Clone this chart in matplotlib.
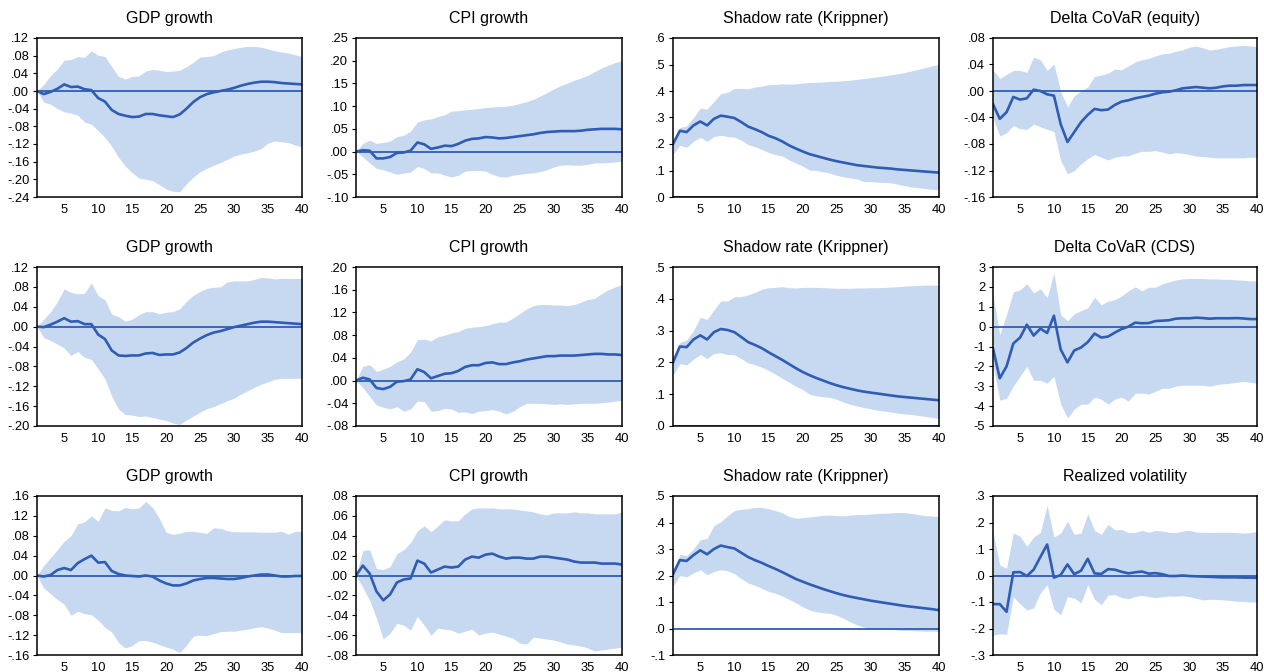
import matplotlib
matplotlib.use("Agg")
import matplotlib.pyplot as plt
import numpy as np

plt.rcParams['font.family'] = ['Liberation Sans', 'DejaVu Sans']

horizon = np.arange(1, 41)

titles = ["GDP growth", "CPI growth", "Shadow rate (Krippner)", "Delta CoVaR (equity)",
          "GDP growth", "CPI growth", "Shadow rate (Krippner)", "Delta CoVaR (CDS)",
          "GDP growth", "CPI growth", "Shadow rate (Krippner)", "Realized volatility"]

# row 1
gdp1_mid = [0, -0.007, -0.002, 0.005, 0.015, 0.009, 0.010, 0.004, 0.002, -0.016,
            -0.024, -0.043, -0.052, -0.056, -0.059, -0.058, -0.052, -0.052, -0.055, -0.057,
            -0.059, -0.053, -0.040, -0.025, -0.014, -0.007, -0.003, 0.000, 0.003, 0.007,
            0.012, 0.016, 0.019, 0.021, 0.021, 0.020, 0.018, 0.017, 0.016, 0.015]
gdp1_hi = [0, 0.015, 0.035, 0.050, 0.070, 0.071, 0.078, 0.076, 0.091, 0.081,
           0.078, 0.055, 0.033, 0.027, 0.033, 0.034, 0.045, 0.049, 0.047, 0.044,
           0.045, 0.047, 0.055, 0.065, 0.077, 0.078, 0.080, 0.088, 0.093, 0.096,
           0.099, 0.101, 0.101, 0.099, 0.095, 0.091, 0.088, 0.086, 0.082, 0.078]
gdp1_lo = [0, -0.025, -0.030, -0.040, -0.047, -0.050, -0.055, -0.070, -0.075, -0.090,
           -0.105, -0.125, -0.150, -0.170, -0.185, -0.197, -0.200, -0.203, -0.212, -0.222,
           -0.227, -0.228, -0.210, -0.195, -0.183, -0.175, -0.168, -0.162, -0.155, -0.147,
           -0.143, -0.140, -0.136, -0.130, -0.118, -0.113, -0.115, -0.117, -0.122, -0.127]

cpi1_mid = [0, 0.003, 0.002, -0.015, -0.015, -0.012, -0.003, -0.002, 0.002, 0.020,
            0.016, 0.006, 0.009, 0.013, 0.012, 0.017, 0.024, 0.028, 0.029, 0.032,
            0.031, 0.029, 0.030, 0.032, 0.034, 0.036, 0.038, 0.041, 0.043, 0.044,
            0.045, 0.045, 0.045, 0.046, 0.048, 0.049, 0.050, 0.050, 0.050, 0.049]
cpi1_hi = [0, 0.018, 0.025, 0.018, 0.020, 0.023, 0.033, 0.036, 0.045, 0.065,
           0.070, 0.072, 0.077, 0.081, 0.089, 0.090, 0.092, 0.093, 0.095, 0.097,
           0.098, 0.099, 0.100, 0.102, 0.106, 0.110, 0.115, 0.122, 0.130, 0.138,
           0.145, 0.151, 0.157, 0.162, 0.168, 0.176, 0.184, 0.190, 0.196, 0.200]
cpi1_lo = [0, -0.012, -0.025, -0.037, -0.040, -0.045, -0.050, -0.047, -0.045, -0.033,
           -0.037, -0.047, -0.047, -0.052, -0.056, -0.052, -0.043, -0.042, -0.042, -0.043,
           -0.050, -0.055, -0.056, -0.052, -0.050, -0.048, -0.047, -0.044, -0.040, -0.034,
           -0.030, -0.029, -0.030, -0.030, -0.028, -0.025, -0.025, -0.024, -0.023, -0.021]

shd1_mid = [0.200, 0.250, 0.245, 0.270, 0.285, 0.270, 0.295, 0.307, 0.303, 0.298,
            0.283, 0.266, 0.256, 0.245, 0.231, 0.222, 0.210, 0.195, 0.183, 0.172,
            0.162, 0.155, 0.148, 0.141, 0.135, 0.130, 0.125, 0.120, 0.117, 0.114,
            0.111, 0.109, 0.107, 0.104, 0.102, 0.100, 0.098, 0.096, 0.094, 0.092]
shd1_hi = [0.200, 0.262, 0.268, 0.300, 0.335, 0.332, 0.360, 0.390, 0.395, 0.410,
           0.410, 0.408, 0.415, 0.418, 0.424, 0.425, 0.427, 0.426, 0.427, 0.430,
           0.432, 0.433, 0.434, 0.436, 0.437, 0.439, 0.441, 0.444, 0.447, 0.450,
           0.454, 0.457, 0.461, 0.465, 0.470, 0.476, 0.482, 0.488, 0.495, 0.500]
shd1_lo = [0.160, 0.195, 0.188, 0.210, 0.225, 0.210, 0.228, 0.233, 0.228, 0.226,
           0.215, 0.198, 0.190, 0.180, 0.168, 0.160, 0.155, 0.140, 0.128, 0.117,
           0.102, 0.100, 0.095, 0.090, 0.082, 0.076, 0.072, 0.068, 0.058, 0.058,
           0.056, 0.055, 0.053, 0.048, 0.042, 0.038, 0.035, 0.032, 0.029, 0.027]

eq_mid = [-0.020, -0.042, -0.032, -0.009, -0.013, -0.011, 0.002, 0.000, -0.005, -0.007,
          -0.050, -0.077, -0.062, -0.047, -0.036, -0.027, -0.029, -0.028, -0.021, -0.016,
          -0.014, -0.011, -0.009, -0.007, -0.004, -0.002, -0.001, 0.001, 0.004, 0.005,
          0.006, 0.005, 0.004, 0.005, 0.007, 0.008, 0.008, 0.009, 0.009, 0.009]
eq_hi = [0.032, 0.019, 0.025, 0.031, 0.031, 0.028, 0.051, 0.047, 0.031, 0.041,
         -0.001, -0.024, -0.007, 0.000, 0.006, 0.022, 0.024, 0.027, 0.033, 0.032,
         0.038, 0.044, 0.047, 0.049, 0.053, 0.056, 0.057, 0.060, 0.062, 0.066,
         0.068, 0.065, 0.062, 0.063, 0.065, 0.067, 0.068, 0.069, 0.068, 0.067]
eq_lo = [-0.040, -0.068, -0.063, -0.052, -0.057, -0.058, -0.050, -0.054, -0.058, -0.061,
         -0.105, -0.125, -0.120, -0.110, -0.102, -0.096, -0.100, -0.104, -0.100, -0.098,
         -0.098, -0.094, -0.091, -0.091, -0.090, -0.092, -0.095, -0.093, -0.094, -0.096,
         -0.098, -0.099, -0.100, -0.101, -0.101, -0.101, -0.101, -0.101, -0.100, -0.100]

# row 2
gdp2_mid = [0, -0.001, 0.004, 0.010, 0.017, 0.010, 0.011, 0.005, 0.005, -0.016,
            -0.025, -0.048, -0.058, -0.059, -0.058, -0.058, -0.054, -0.053, -0.057, -0.056,
            -0.056, -0.052, -0.043, -0.032, -0.024, -0.017, -0.012, -0.009, -0.005, -0.001,
            0.002, 0.005, 0.008, 0.010, 0.010, 0.009, 0.008, 0.007, 0.006, 0.005]
gdp2_hi = [0, 0.015, 0.030, 0.050, 0.076, 0.069, 0.066, 0.067, 0.088, 0.062,
           0.054, 0.025, 0.020, 0.011, 0.015, 0.024, 0.030, 0.030, 0.026, 0.029,
           0.030, 0.036, 0.051, 0.063, 0.071, 0.077, 0.079, 0.080, 0.090, 0.092,
           0.092, 0.092, 0.095, 0.099, 0.098, 0.096, 0.097, 0.097, 0.097, 0.097]
gdp2_lo = [0, -0.022, -0.028, -0.035, -0.043, -0.058, -0.050, -0.062, -0.066, -0.085,
           -0.105, -0.140, -0.166, -0.177, -0.178, -0.181, -0.180, -0.183, -0.186, -0.189,
           -0.194, -0.197, -0.188, -0.180, -0.172, -0.165, -0.161, -0.155, -0.149, -0.144,
           -0.136, -0.129, -0.122, -0.116, -0.111, -0.106, -0.104, -0.104, -0.104, -0.104]

cpi2_mid = [0, 0.005, 0.002, -0.013, -0.015, -0.011, -0.002, -0.001, 0.002, 0.020,
            0.015, 0.004, 0.008, 0.012, 0.013, 0.017, 0.024, 0.027, 0.027, 0.031,
            0.032, 0.029, 0.029, 0.032, 0.034, 0.037, 0.039, 0.041, 0.043, 0.043,
            0.044, 0.044, 0.044, 0.045, 0.046, 0.047, 0.047, 0.046, 0.046, 0.045]
cpi2_hi = [0, 0.025, 0.028, 0.016, 0.020, 0.025, 0.033, 0.038, 0.050, 0.072,
           0.073, 0.070, 0.077, 0.080, 0.084, 0.086, 0.092, 0.094, 0.095, 0.097,
           0.100, 0.103, 0.103, 0.110, 0.118, 0.126, 0.132, 0.134, 0.134, 0.133,
           0.133, 0.132, 0.134, 0.138, 0.143, 0.145, 0.153, 0.160, 0.165, 0.169]
cpi2_lo = [0, -0.012, -0.028, -0.043, -0.047, -0.050, -0.046, -0.054, -0.050, -0.036,
           -0.037, -0.054, -0.053, -0.049, -0.050, -0.056, -0.055, -0.058, -0.054, -0.053,
           -0.051, -0.054, -0.059, -0.054, -0.046, -0.040, -0.040, -0.040, -0.041, -0.042,
           -0.041, -0.042, -0.041, -0.040, -0.040, -0.040, -0.039, -0.038, -0.036, -0.035]

shd2_mid = [0.200, 0.250, 0.248, 0.272, 0.285, 0.272, 0.295, 0.305, 0.302, 0.295,
            0.280, 0.264, 0.255, 0.245, 0.232, 0.220, 0.208, 0.195, 0.182, 0.170,
            0.160, 0.151, 0.143, 0.135, 0.128, 0.122, 0.117, 0.112, 0.108, 0.105,
            0.102, 0.099, 0.096, 0.093, 0.091, 0.089, 0.087, 0.085, 0.083, 0.081]
shd2_hi = [0.200, 0.263, 0.270, 0.300, 0.342, 0.335, 0.365, 0.393, 0.393, 0.406,
           0.407, 0.412, 0.420, 0.430, 0.435, 0.436, 0.438, 0.435, 0.434, 0.436,
           0.436, 0.436, 0.435, 0.434, 0.433, 0.433, 0.433, 0.434, 0.434, 0.435,
           0.435, 0.436, 0.437, 0.438, 0.440, 0.441, 0.442, 0.443, 0.443, 0.443]
shd2_lo = [0.160, 0.196, 0.192, 0.210, 0.225, 0.212, 0.228, 0.230, 0.225, 0.224,
           0.212, 0.198, 0.193, 0.185, 0.175, 0.163, 0.150, 0.138, 0.125, 0.115,
           0.100, 0.095, 0.092, 0.090, 0.084, 0.075, 0.068, 0.063, 0.058, 0.054,
           0.049, 0.047, 0.044, 0.040, 0.038, 0.036, 0.033, 0.030, 0.027, 0.024]

cds_mid = [-1.10, -2.60, -2.00, -0.85, -0.55, 0.10, -0.45, -0.10, -0.32, 0.55,
           -1.15, -1.80, -1.20, -1.05, -0.78, -0.35, -0.55, -0.50, -0.30, -0.12,
           0.00, 0.20, 0.17, 0.18, 0.28, 0.30, 0.32, 0.40, 0.42, 0.42,
           0.45, 0.43, 0.40, 0.42, 0.42, 0.42, 0.43, 0.41, 0.38, 0.38]
cds_hi = [1.60, -0.40, 0.60, 1.75, 1.85, 2.15, 1.70, 1.90, 1.45, 2.70,
          0.60, 0.30, 0.65, 0.80, 0.95, 1.48, 1.10, 1.28, 1.35, 1.55,
          1.80, 2.00, 1.80, 1.98, 1.98, 2.15, 2.25, 2.35, 2.40, 2.42,
          2.42, 2.42, 2.40, 2.40, 2.38, 2.38, 2.35, 2.33, 2.30, 2.30]
cds_lo = [-1.90, -3.70, -3.60, -3.00, -2.50, -2.00, -2.70, -2.70, -2.85, -2.50,
          -3.90, -4.60, -4.15, -3.90, -3.90, -3.55, -3.65, -3.90, -3.65, -3.55,
          -3.75, -3.35, -3.35, -3.40, -3.25, -3.10, -3.10, -3.00, -2.95, -2.95,
          -2.95, -2.95, -3.00, -2.92, -2.88, -2.85, -2.80, -2.75, -2.80, -2.85]

# row 3
gdp3_mid = [0, -0.002, 0.001, 0.011, 0.015, 0.011, 0.025, 0.033, 0.040, 0.026,
            0.027, 0.009, 0.003, 0.000, -0.001, -0.002, 0.000, -0.002, -0.010, -0.016,
            -0.020, -0.020, -0.016, -0.010, -0.007, -0.005, -0.005, -0.006, -0.007, -0.007,
            -0.005, -0.002, 0.000, 0.002, 0.002, 0.000, -0.002, -0.002, -0.001, -0.001]
gdp3_hi = [0, 0.020, 0.036, 0.052, 0.069, 0.080, 0.104, 0.108, 0.120, 0.109,
           0.136, 0.131, 0.130, 0.137, 0.134, 0.136, 0.149, 0.137, 0.115, 0.087,
           0.083, 0.085, 0.089, 0.089, 0.087, 0.085, 0.096, 0.095, 0.090, 0.088,
           0.088, 0.088, 0.088, 0.087, 0.087, 0.087, 0.089, 0.083, 0.089, 0.089]
gdp3_lo = [0, -0.025, -0.037, -0.048, -0.058, -0.080, -0.072, -0.077, -0.079, -0.090,
           -0.104, -0.114, -0.135, -0.146, -0.141, -0.131, -0.131, -0.134, -0.139, -0.144,
           -0.148, -0.155, -0.140, -0.122, -0.120, -0.121, -0.117, -0.113, -0.112, -0.112,
           -0.110, -0.108, -0.105, -0.103, -0.106, -0.110, -0.115, -0.115, -0.115, -0.115]

cpi3_mid = [0, 0.010, 0.002, -0.016, -0.025, -0.019, -0.007, -0.004, -0.003, 0.015,
            0.012, 0.003, 0.006, 0.009, 0.008, 0.009, 0.016, 0.019, 0.018, 0.021,
            0.022, 0.019, 0.017, 0.018, 0.018, 0.017, 0.017, 0.019, 0.019, 0.018,
            0.017, 0.016, 0.014, 0.013, 0.013, 0.013, 0.012, 0.012, 0.012, 0.011]
cpi3_hi = [0, 0.025, 0.026, 0.007, 0.006, 0.009, 0.022, 0.026, 0.033, 0.045,
           0.050, 0.044, 0.050, 0.056, 0.055, 0.055, 0.062, 0.067, 0.068, 0.068,
           0.068, 0.067, 0.067, 0.067, 0.066, 0.065, 0.064, 0.062, 0.061, 0.063,
           0.063, 0.063, 0.064, 0.063, 0.063, 0.062, 0.062, 0.062, 0.062, 0.064]
cpi3_lo = [0, -0.012, -0.025, -0.043, -0.064, -0.058, -0.048, -0.050, -0.055, -0.041,
           -0.050, -0.060, -0.053, -0.054, -0.055, -0.058, -0.056, -0.054, -0.060, -0.058,
           -0.057, -0.059, -0.061, -0.063, -0.068, -0.069, -0.062, -0.063, -0.064, -0.065,
           -0.067, -0.069, -0.070, -0.071, -0.073, -0.076, -0.075, -0.074, -0.073, -0.072]

shd3_mid = [0.205, 0.258, 0.255, 0.277, 0.295, 0.280, 0.300, 0.313, 0.307, 0.302,
            0.286, 0.270, 0.258, 0.248, 0.236, 0.225, 0.213, 0.200, 0.187, 0.177,
            0.167, 0.158, 0.149, 0.141, 0.133, 0.126, 0.120, 0.115, 0.110, 0.105,
            0.101, 0.097, 0.093, 0.089, 0.085, 0.082, 0.079, 0.076, 0.073, 0.069]
shd3_hi = [0.200, 0.280, 0.275, 0.300, 0.335, 0.340, 0.388, 0.403, 0.425, 0.445,
           0.450, 0.452, 0.457, 0.457, 0.452, 0.445, 0.437, 0.423, 0.416, 0.418,
           0.421, 0.424, 0.427, 0.428, 0.426, 0.425, 0.428, 0.430, 0.430, 0.432,
           0.434, 0.435, 0.436, 0.438, 0.437, 0.434, 0.430, 0.426, 0.424, 0.423]
shd3_lo = [0.160, 0.200, 0.195, 0.210, 0.222, 0.203, 0.215, 0.222, 0.218, 0.207,
           0.188, 0.172, 0.163, 0.152, 0.140, 0.133, 0.123, 0.110, 0.097, 0.082,
           0.070, 0.063, 0.060, 0.057, 0.050, 0.038, 0.025, 0.013, 0.005, 0.002,
           0.000, -0.002, -0.003, -0.006, -0.007, -0.008, -0.009, -0.010, -0.010, -0.011]

rv_mid = [-0.108, -0.108, -0.137, 0.012, 0.013, -0.002, 0.022, 0.070, 0.117, -0.008,
          0.002, 0.042, 0.005, 0.018, 0.063, 0.008, 0.006, 0.024, 0.022, 0.014,
          0.008, 0.012, 0.015, 0.007, 0.009, 0.005, -0.002, -0.002, 0.000, -0.002,
          -0.003, -0.004, -0.005, -0.006, -0.007, -0.007, -0.007, -0.008, -0.008, -0.009]
rv_hi = [0.165, 0.040, 0.027, 0.160, 0.148, 0.110, 0.145, 0.163, 0.265, 0.145,
         0.160, 0.205, 0.155, 0.160, 0.233, 0.170, 0.155, 0.193, 0.172, 0.174,
         0.162, 0.162, 0.170, 0.163, 0.170, 0.168, 0.163, 0.162, 0.168, 0.170,
         0.164, 0.163, 0.162, 0.163, 0.163, 0.163, 0.162, 0.160, 0.162, 0.166]
rv_lo = [-0.225, -0.220, -0.222, -0.080, -0.107, -0.130, -0.122, -0.065, -0.035, -0.128,
         -0.148, -0.080, -0.085, -0.103, -0.035, -0.090, -0.110, -0.074, -0.072, -0.083,
         -0.088, -0.079, -0.075, -0.080, -0.083, -0.081, -0.077, -0.078, -0.076, -0.080,
         -0.086, -0.092, -0.090, -0.090, -0.092, -0.094, -0.097, -0.098, -0.100, -0.100]

# y axis: (min, max, step, decimals)
yaxes = [(-0.24, 0.12, 0.04, 2), (-0.10, 0.25, 0.05, 2), (0.0, 0.6, 0.1, 1), (-0.16, 0.08, 0.04, 2),
         (-0.20, 0.12, 0.04, 2), (-0.08, 0.20, 0.04, 2), (0.0, 0.5, 0.1, 1), (-5, 3, 1, 0),
         (-0.16, 0.16, 0.04, 2), (-0.08, 0.08, 0.02, 2), (-0.1, 0.5, 0.1, 1), (-0.3, 0.3, 0.1, 1)]

series = [(gdp1_mid, gdp1_lo, gdp1_hi), (cpi1_mid, cpi1_lo, cpi1_hi),
          (shd1_mid, shd1_lo, shd1_hi), (eq_mid, eq_lo, eq_hi),
          (gdp2_mid, gdp2_lo, gdp2_hi), (cpi2_mid, cpi2_lo, cpi2_hi),
          (shd2_mid, shd2_lo, shd2_hi), (cds_mid, cds_lo, cds_hi),
          (gdp3_mid, gdp3_lo, gdp3_hi), (cpi3_mid, cpi3_lo, cpi3_hi),
          (shd3_mid, shd3_lo, shd3_hi), (rv_mid, rv_lo, rv_hi)]

line_col = '#2F5DB4'
band_col = '#C6D9F1'


def tick_label(v, dec):
    s = f"{v:.{dec}f}"
    if s.startswith("-0."):
        s = "-" + s[2:]
    elif s.startswith("0."):
        s = s[1:]
    if s in ("-0", "-.0", "-.00"):
        s = s[1:]
    return s


fig = plt.figure(figsize=(12.64, 6.72), dpi=100)
W, H = 1264.0, 672.0
col_left = [37, 356, 673, 993]
col_right = [302, 622, 939, 1257]
row_top = [38, 267, 496]
row_bot = [197, 426, 655]

for i in range(12):
    r, c = divmod(i, 4)
    ax = fig.add_axes([col_left[c] / W, 1 - row_bot[r] / H,
                       (col_right[c] - col_left[c]) / W, (row_bot[r] - row_top[r]) / H])
    mid, lo, hi = series[i]
    ax.fill_between(horizon, lo, hi, color=band_col, lw=0, zorder=1)
    ax.axhline(0, color=line_col, lw=1.3, zorder=2)
    ax.plot(horizon, mid, color=line_col, lw=1.9, zorder=3)

    ymin, ymax, step, dec = yaxes[i]
    ticks = np.arange(ymin, ymax + step / 2, step)
    ax.set_ylim(ymin, ymax)
    ax.set_yticks(ticks)
    ax.set_yticklabels([tick_label(t, dec) for t in ticks])
    ax.set_xlim(1, 40)
    ax.set_xticks(range(5, 41, 5))
    ax.tick_params(axis='y', direction='out', length=3, width=0.8, pad=2.5, labelsize=9.3)
    ax.tick_params(axis='x', direction='in', length=0, pad=5, labelsize=9.3)
    for sp in ax.spines.values():
        sp.set_linewidth(1.1)
        sp.set_zorder(4)
    ax.set_title(titles[i], fontsize=11.5, pad=11)

fig.savefig("out.png", dpi=100)
